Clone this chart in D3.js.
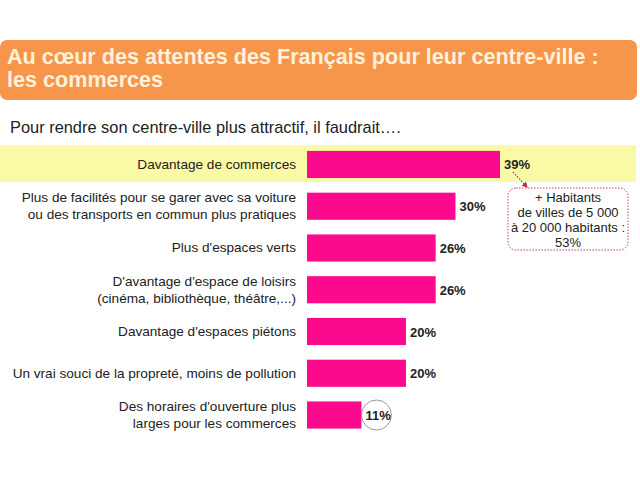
<!DOCTYPE html>
<html><head><meta charset="utf-8">
<script src="https://cdn.jsdelivr.net/npm/d3@7"></script>
<style>body{margin:0;background:#fff;}svg{display:block;font-family:"Liberation Sans",Arial,sans-serif;}</style>
</head><body>
<script>
const titleLines = ["Au cœur des attentes des Français pour leur centre-ville :", "les commerces"];
const subtitle = "Pour rendre son centre-ville plus attractif, il faudrait….";
const categories = [
  ["Davantage de commerces"],
  ["Plus de facilités pour se garer avec sa voiture", "ou des transports en commun plus pratiques"],
  ["Plus d'espaces verts"],
  ["D'avantage d'espace de loisirs", "(cinéma, bibliothèque, théâtre,...)"],
  ["Davantage d'espaces piétons"],
  ["Un vrai souci de la propreté, moins de pollution"],
  ["Des horaires d'ouverture plus", "larges pour les commerces"]
];
const values = [39, 30, 26, 26, 20, 20, 11];
const valueLabels = ["39%", "30%", "26%", "26%", "20%", "20%", "11%"];
const noteLines = ["+ Habitants", "de villes de 5 000", "à 20 000 habitants :", "53%"];

const W = 640, H = 480;
const svg = d3.select("body").append("svg").attr("width", W).attr("height", H);

// title box
svg.append("rect").attr("x", 0).attr("y", 40).attr("width", 637).attr("height", 60)
  .attr("rx", 7).attr("fill", "#F7964A");
svg.selectAll("text.title").data(titleLines).join("text")
  .attr("x", 7).attr("y", (d, i) => 64 + i * 23)
  .attr("fill", "#FFF1DC").attr("font-size", 21.6).attr("font-weight", "bold")
  .text(d => d);

svg.append("text").attr("x", 10).attr("y", 133).attr("font-size", 16.4).attr("fill", "#222")
  .text(subtitle);

const idx = d3.range(values.length);
const x = d3.scaleLinear().domain([0, 39]).range([307, 500]);
const y = d3.scaleBand().domain(idx).range([143.6, 435.9]).paddingInner(0.35).paddingOuter(0.175);

// highlight band for first row
svg.append("rect").attr("x", 0).attr("y", 145).attr("width", 636).attr("height", 37)
  .attr("fill", "#FAF9A6");

svg.selectAll("rect.bar").data(idx).join("rect").attr("class", "bar")
  .attr("x", x(0)).attr("y", i => y(i))
  .attr("width", i => x(values[i]) - x(0)).attr("height", y.bandwidth())
  .attr("fill", "#FC0A8E");

// category labels
const lab = svg.selectAll("g.lab").data(idx).join("g").attr("class", "lab");
lab.each(function (i) {
  const lines = categories[i];
  const cy = y(i) + y.bandwidth() / 2;
  d3.select(this).selectAll("text").data(lines).join("text")
    .attr("x", 296).attr("text-anchor", "end")
    .attr("y", (d, j) => cy + (j - (lines.length - 1) / 2) * 17 + 4.5)
    .attr("font-size", 13.6).attr("fill", "#222").text(d => d);
});

// circle around smallest value
const last = values.length - 1;
svg.append("circle").attr("cx", x(values[last]) + 15).attr("cy", y(last) + y.bandwidth() / 2)
  .attr("r", 15).attr("fill", "#fff").attr("stroke", "#999").attr("stroke-width", 1);

// value labels
svg.selectAll("text.val").data(idx).join("text")
  .attr("x", i => x(values[i]) + 4).attr("y", i => y(i) + y.bandwidth() / 2 + 5)
  .attr("font-size", 13).attr("font-weight", "bold").attr("fill", "#222")
  .text(i => valueLabels[i]);

// annotation
const defs = svg.append("defs");
defs.append("marker").attr("id", "arr").attr("viewBox", "0 0 10 10").attr("refX", 8).attr("refY", 5)
  .attr("markerWidth", 5).attr("markerHeight", 5).attr("orient", "auto")
  .append("path").attr("d", "M0,0L10,5L0,10z").attr("fill", "#C0304A");
svg.append("line").attr("x1", 513).attr("y1", 172).attr("x2", 527).attr("y2", 187)
  .attr("stroke", "#C0304A").attr("stroke-width", 1.2).attr("stroke-dasharray", "1.5,1.5")
  .attr("marker-end", "url(#arr)");
svg.append("rect").attr("x", 508).attr("y", 188).attr("width", 120).attr("height", 62)
  .attr("rx", 8).attr("fill", "#fff").attr("stroke", "#C0406A").attr("stroke-width", 1)
  .attr("stroke-dasharray", "1.5,1.5");
svg.selectAll("text.note").data(noteLines).join("text")
  .attr("x", 568).attr("y", (d, i) => 202 + i * 15).attr("text-anchor", "middle")
  .attr("font-size", 13).attr("fill", "#222").text(d => d);
</script>
</body></html>
